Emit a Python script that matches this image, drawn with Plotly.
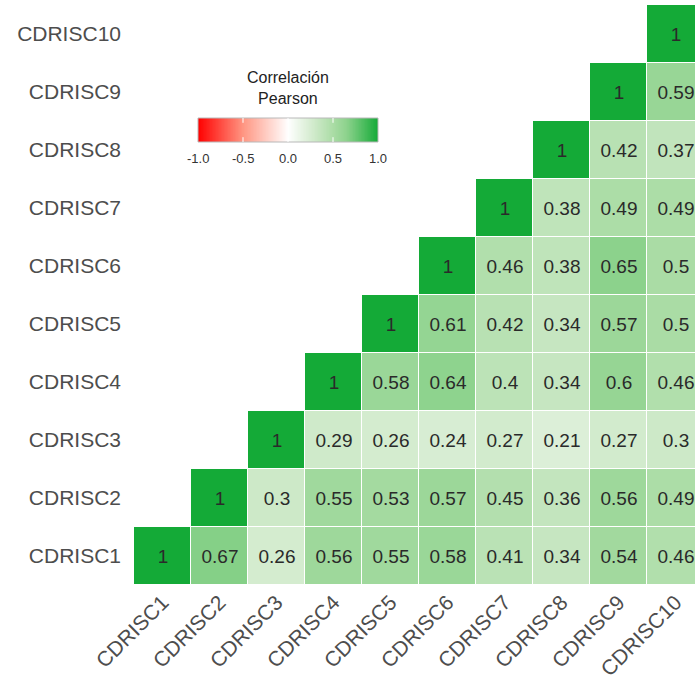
import plotly.graph_objects as go

labels = ["CDRISC1", "CDRISC2", "CDRISC3", "CDRISC4", "CDRISC5",
          "CDRISC6", "CDRISC7", "CDRISC8", "CDRISC9", "CDRISC10"]

# upper-triangle rows (row i, columns i..10)
row1 = [1, 0.67, 0.26, 0.56, 0.55, 0.58, 0.41, 0.34, 0.54, 0.46]
row2 = [1, 0.3, 0.55, 0.53, 0.57, 0.45, 0.36, 0.56, 0.49]
row3 = [1, 0.29, 0.26, 0.24, 0.27, 0.21, 0.27, 0.3]
row4 = [1, 0.58, 0.64, 0.4, 0.34, 0.6, 0.46]
row5 = [1, 0.61, 0.42, 0.34, 0.57, 0.5]
row6 = [1, 0.46, 0.38, 0.65, 0.5]
row7 = [1, 0.38, 0.49, 0.49]
row8 = [1, 0.42, 0.37]
row9 = [1, 0.59]
row10 = [1]
rows = [row1, row2, row3, row4, row5, row6, row7, row8, row9, row10]

legend_ticks = [-1, -0.5, 0, 0.5, 1]
legend_ticktext = ["-1.0", "-0.5", "0.0", "0.5", "1.0"]
legend_title = "Correlación<br>Pearson"

z = []
txt = []
for i, r in enumerate(rows):
    zr = [None] * i + r
    z.append(zr)
    txt.append(["" if v is None else ("%g" % v) for v in zr])

colorscale = [
    [0.0, "rgb(255,0,0)"],
    [0.25, "rgb(255,150,130)"],
    [0.5, "rgb(255,255,255)"],
    [0.6, "rgb(222,240,218)"],
    [0.65, "rgb(205,233,200)"],
    [0.75, "rgb(170,220,165)"],
    [0.825, "rgb(140,210,140)"],
    [1.0, "rgb(20,170,55)"],
]

W, H = 695, 685
ML, MR, MT, MB = 134, 0, 5, 100
PW, PH = W - ML - MR, H - MT - MB
CELL = 57.0


def px_x(sx):  # screen x -> paper x
    return (sx - ML) / PW


def px_y(sy):  # screen y -> paper y
    return 1 - (sy - MT) / PH


fig = go.Figure(go.Heatmap(
    x=labels, y=labels, z=z, text=txt, texttemplate="%{text}",
    textfont=dict(size=19, color="#2a2a2a", family="Liberation Sans, Arial"),
    zmin=-1, zmax=1, colorscale=colorscale, xgap=1, ygap=1,
    hoverongaps=False, showscale=False,
))

# legend gradient bar
grad = [-1 + 2 * k / 299 for k in range(300)]
fig.add_trace(go.Heatmap(
    x=grad, y=[0], z=[grad], zmin=-1, zmax=1, colorscale=colorscale,
    showscale=False, hoverinfo="skip", xaxis="x2", yaxis="y2",
))

bx0, bx1, by0, by1 = 198, 378, 118, 142
shapes = [dict(type="rect", xref="paper", yref="paper",
               x0=px_x(bx0), x1=px_x(bx1), y0=px_y(by1), y1=px_y(by0),
               line=dict(color="#b8b8b8", width=1))]
for t in legend_ticks[1:-1]:
    for (a, b) in [(0, 0.2), (0.8, 1)]:
        shapes.append(dict(type="line", xref="x2", yref="y2 domain",
                           x0=t, x1=t, y0=a, y1=b,
                           line=dict(color="white", width=1)))
annotations = [dict(text=legend_title, xref="paper", yref="paper",
                    x=px_x((bx0 + bx1) / 2), y=px_y(88), showarrow=False,
                    font=dict(size=16, color="#222222"), align="center",
                    xanchor="center", yanchor="middle")]
for t, s in zip(legend_ticks, legend_ticktext):
    annotations.append(dict(text=s, xref="x2", yref="paper", x=t, y=px_y(158),
                            showarrow=False, xanchor="center", yanchor="middle",
                            font=dict(size=13, color="#333333")))

fig.update_layout(
    width=W, height=H,
    margin=dict(l=ML, r=MR, t=MT, b=MB, autoexpand=False),
    plot_bgcolor="white", paper_bgcolor="white",
    font=dict(family="Liberation Sans, Arial"),
    shapes=shapes, annotations=annotations,
    xaxis=dict(range=[-0.5, -0.5 + PW / CELL], tickangle=-45,
               showgrid=False, zeroline=False, ticks="", showline=False,
               tickfont=dict(size=21, color="#4d4d4d")),
    yaxis=dict(range=[-0.5, 9.5], showgrid=False, zeroline=False, ticks="",
               showline=False, ticklabelstandoff=12,
               tickfont=dict(size=21, color="#4d4d4d")),
    xaxis2=dict(domain=[px_x(bx0), px_x(bx1)], range=[-1, 1], anchor="y2",
                visible=False, fixedrange=True),
    yaxis2=dict(domain=[px_y(by1), px_y(by0)], range=[-0.5, 0.5], anchor="x2",
                visible=False, fixedrange=True),
)

fig.write_html("out.html", config={"displayModeBar": False},
               post_script="document.body.style.margin='0';"
                           "document.body.style.overflow='hidden';")
